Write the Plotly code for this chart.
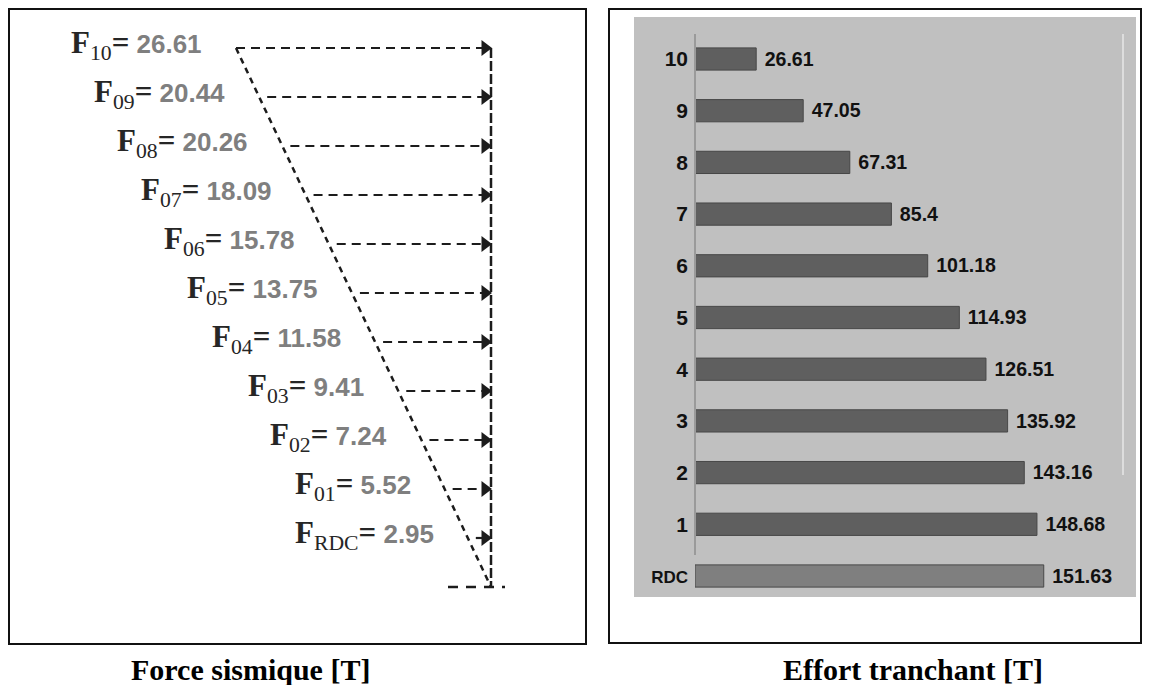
import plotly.graph_objects as go

# ---------------- data ----------------
levels = ["RDC", "01", "02", "03", "04", "05", "06", "07", "08", "09", "10"]
forces = [2.95, 5.52, 7.24, 9.41, 11.58, 13.75, 15.78, 18.09, 20.26, 20.44, 26.61]
storeys = ["RDC", "1", "2", "3", "4", "5", "6", "7", "8", "9", "10"]
shear = [151.63, 148.68, 143.16, 135.92, 126.51, 114.93, 101.18, 85.4, 67.31, 47.05, 26.61]
titles = ["Force sismique [T]", "Effort tranchant [T]"]

# ---------------- layout constants ----------------
OFF = 8                               # page body margin
W, H = 1150 - 2 * OFF, 693 - 2 * OFF  # figure size (fits inside the window)
def px(x):
    return (x - OFF) / W
def py(y):
    return 1 - (y - OFF) / H

N = len(levels)               # level index: 0 = ground, 1..N = RDC..10
Y0_PX, STEP_PX = 587, 49      # ground pixel row and storey spacing on left diagram
X_TOP, X_BASE = 236, 491      # diagonal top / base (left diagram units = px)
X_VERT = 491

def diag(i):
    return X_BASE - (X_BASE - X_TOP) * i / N

ink = "#1c1c1c"
fig = go.Figure()

# diagonal
fig.add_trace(go.Scatter(x=[X_TOP, X_BASE], y=[N, 0], mode="lines",
                         line=dict(color=ink, width=2.5, dash="6px,5px"),
                         xaxis="x", yaxis="y", hoverinfo="skip"))
# vertical
fig.add_trace(go.Scatter(x=[X_VERT, X_VERT], y=[N, 0], mode="lines",
                         line=dict(color=ink, width=2.5, dash="10px,3px"),
                         xaxis="x", yaxis="y", hoverinfo="skip"))
# ground
fig.add_trace(go.Scatter(x=[X_VERT - 43, X_VERT + 14], y=[0, 0], mode="lines",
                         line=dict(color=ink, width=2.5, dash="10px,8px"),
                         xaxis="x", yaxis="y", hoverinfo="skip"))
# horizontal force arrows
ax, ay, hx, hy = [], [], [], []
for k, f in enumerate(forces):
    i = k + 1
    start = diag(i) + (0 if i == N else 8)
    ax += [start, X_VERT - 8, None]
    ay += [i, i, None]
    hx.append(X_VERT - 6)
    hy.append(i)
fig.add_trace(go.Scatter(x=ax, y=ay, mode="lines",
                         line=dict(color=ink, width=2.2, dash="9px,6px"),
                         xaxis="x", yaxis="y", hoverinfo="skip"))
fig.add_trace(go.Scatter(x=hx, y=hy, mode="markers",
                         marker=dict(symbol="triangle-right", size=14, color=ink),
                         xaxis="x", yaxis="y", hoverinfo="skip"))

annotations = []
for k, (lvl, f) in enumerate(zip(levels, forces)):
    i = k + 1
    txt = ("<span style='font-family:Liberation Serif;color:#262626;font-size:31px'>"
           f"<b>F</b><sub>{lvl}</sub><b>=</b></span>"
           f"<span style='color:#7f7f7f'><b> {f:.2f}</b></span>")
    annotations.append(dict(xref="x", yref="y", x=diag(i) - 32, y=i, text=txt,
                            showarrow=False, xanchor="right", yanchor="middle", yshift=3,
                            font=dict(family="Liberation Sans", size=26, color="#7f7f7f")))

# ---------------- right: bar chart ----------------
bar_colors = ["#7f7f7f"] + ["#5f5f5f"] * (len(shear) - 1)
fig.add_trace(go.Bar(x=shear, y=storeys, orientation="h",
                     marker=dict(color=bar_colors, line=dict(color="#474747", width=1)),
                     width=0.43,
                     text=[f" {v:g}" for v in shear], textposition="outside",
                     textfont=dict(family="Liberation Sans", size=22, color="#111111", weight="bold"),
                     cliponaxis=False, xaxis="x2", yaxis="y2", hoverinfo="skip"))

AX_L, AX_R = 695, 1123
SCALE = 2.3
top_c, bot_c = 59, 576
stepc = (bot_c - top_c) / (len(storeys) - 1)
plot_top = top_c - stepc / 2
plot_bot = bot_c + stepc / 2

ticktext = ["<span style='font-size:17px'><b>RDC</b></span>"] + [f"<b>{s}</b>" for s in storeys[1:]]

shapes = [
    # grey background of bar chart
    dict(type="rect", xref="paper", yref="paper", x0=px(634), x1=px(1136), y0=py(597), y1=py(17),
         fillcolor="#c0c0c0", line=dict(width=0), layer="below"),
    # frames
    dict(type="rect", xref="paper", yref="paper", x0=px(9), x1=px(586), y0=py(644), y1=py(9),
         line=dict(color="#111111", width=2)),
    dict(type="rect", xref="paper", yref="paper", x0=px(609), x1=px(1141), y0=py(643), y1=py(9),
         line=dict(color="#111111", width=2)),
    # bar chart axis line
    dict(type="line", xref="paper", yref="paper", x0=px(AX_L), x1=px(AX_L), y0=py(555), y1=py(34),
         line=dict(color="#9a9a9a", width=2)),
    # right light rule
    dict(type="line", xref="paper", yref="paper", x0=px(AX_R), x1=px(AX_R), y0=py(475), y1=py(34),
         line=dict(color="#dddddd", width=2)),
]

for t, cx in zip(titles, [250, 913]):
    annotations.append(dict(xref="paper", yref="paper", x=px(cx), y=py(669), text=f"<b>{t}</b>",
                            showarrow=False, xanchor="center", yanchor="middle",
                            font=dict(family="Liberation Serif", size=30, color="#000000")))

fig.update_layout(
    width=W, height=H, margin=dict(l=0, r=0, t=0, b=0),
    paper_bgcolor="white", plot_bgcolor="rgba(0,0,0,0)",
    showlegend=False, hovermode=False,
    xaxis=dict(domain=[0, px(598)], range=[OFF, 598], visible=False, fixedrange=True),
    yaxis=dict(domain=[0, 1], range=[(Y0_PX - (OFF + H)) / STEP_PX, (Y0_PX - OFF) / STEP_PX],
               visible=False, fixedrange=True),
    xaxis2=dict(domain=[px(AX_L), px(AX_R)], range=[0, (AX_R - AX_L) / SCALE], anchor="y2",
                visible=False, fixedrange=True),
    yaxis2=dict(domain=[py(plot_bot), py(plot_top)], range=[-0.5, len(storeys) - 0.5], anchor="x2",
                type="category", categoryorder="array", categoryarray=storeys,
                tickmode="array", tickvals=storeys, ticktext=ticktext,
                tickfont=dict(family="Liberation Sans", size=21, color="#111111"),
                showline=False, showgrid=False, zeroline=False, ticks="", ticklabelstandoff=6,
                fixedrange=True),
    shapes=shapes, annotations=annotations,
)

fig.write_html("out.html")
